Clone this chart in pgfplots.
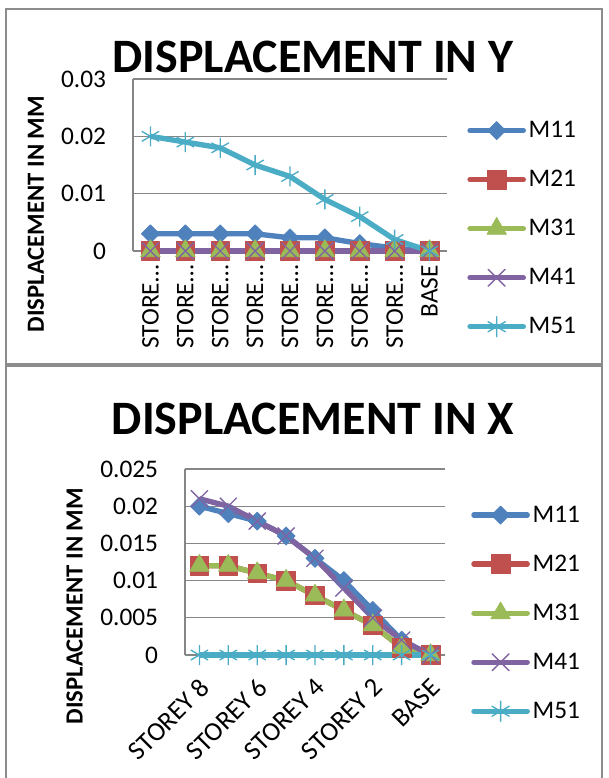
\documentclass[border=0pt]{standalone}
\usepackage{fontspec}
\setmainfont{Carlito}
\usepackage{pgfplots}
\usepackage{pgfplotstable}
\pgfplotsset{compat=1.18}
\usetikzlibrary{plotmarks}
\definecolor{c1}{HTML}{4F81BD}
\definecolor{c2}{HTML}{C0504D}
\definecolor{c3}{HTML}{9BBB59}
\definecolor{c4}{HTML}{8064A2}
\definecolor{c5}{HTML}{4BACC6}
\definecolor{gridc}{HTML}{868686}
\definecolor{framec}{HTML}{8C8C8C}

\pgfplotstableread{
x M11 M21 M31 M41 M51
0 0.0030 0 0 0 0.020
1 0.0030 0 0 0 0.019
2 0.0030 0 0 0 0.018
3 0.0030 0 0 0 0.015
4 0.0023 0 0 0 0.013
5 0.0023 0 0 0 0.009
6 0.0013 0 0 0 0.006
7 0.0005 0 0 0 0.002
8 0      0 0 0 0
}\dispy

\pgfplotstableread{
x M11 M21 M31 M41 M51
0 0.020 0.012 0.012 0.021 0
1 0.019 0.012 0.012 0.020 0
2 0.018 0.011 0.011 0.018 0
3 0.016 0.010 0.010 0.016 0
4 0.013 0.008 0.008 0.013 0
5 0.010 0.006 0.006 0.009 0
6 0.006 0.004 0.004 0.005 0
7 0.002 0.001 0.001 0.002 0
8 0     0     0     0     0
}\dispx

\pgfplotsset{
  exc/.style={
    scale only axis,
    axis x line*=bottom, axis y line*=left,
    axis line style={draw=gridc, line width=1pt},
    ymajorgrids, grid style={draw=gridc, line width=1pt},
    major tick length=0pt,
    scaled y ticks=false,
    xmin=-0.5, xmax=8.5,
    clip=false,
    tick label style={font=\fontsize{19}{21}\selectfont, inner sep=0pt},
    yticklabel style={anchor=east, xshift=-20pt},
    title style={font=\bfseries\fontsize{36}{40}\selectfont, anchor=center, inner sep=0pt},
    ylabel style={font=\bfseries\fontsize{18.5}{20}\selectfont, anchor=center, rotate=0, inner sep=0pt},
    legend style={draw=none, fill=none, font=\fontsize{19}{21}\selectfont,
      row sep=19pt, inner sep=0pt, anchor=west, cells={anchor=west}},
    legend image code/.code={\draw[mark repeat=2,mark phase=2, line cap=round]
      plot coordinates {(0pt,0pt) (20pt,0pt) (40pt,0pt)};},
    every axis plot/.append style={line width=4pt, line join=round},
  },
  s1/.style={c1, mark=square*, mark size=4.8pt, mark options={rotate=45, fill=c1, line width=0.5pt}},
  s2/.style={c2, mark=square*, mark size=7pt, mark options={fill=c2, line width=0.5pt}},
  s3/.style={c3, mark=triangle*, mark size=8.5pt, mark options={fill=c3, line width=0.5pt}},
  s4/.style={c4, mark=x, mark size=9pt, mark options={line width=1pt}},
  s5/.style={c5, mark=asterisk, mark size=7.5pt, mark options={line width=1pt}},
}

\begin{document}
\begin{tikzpicture}
\useasboundingbox (0pt,0pt) rectangle (456.75pt,-583.5pt);
\fill[white] (0pt,0pt) rectangle (456.75pt,-583.5pt);
\draw[framec, line width=1.5pt] (4.5pt,-6.75pt) rectangle (451.5pt,-273pt);
\draw[framec, line width=1.5pt] (4.5pt,-274.5pt) rectangle (451.5pt,-600pt);

\begin{axis}[exc,
  at={(99.75pt,-188.25pt)}, anchor=south west,
  width=235.5pt, height=129pt,
  ymin=0, ymax=0.03,
  ytick={0,0.01,0.02,0.03},
  yticklabels={0,0.01,0.02,0.03},
  xtick={0,...,8},
  xticklabels={STORE…,STORE…,STORE…,STORE…,STORE…,STORE…,STORE…,STORE…,BASE},
  xticklabel style={yshift=-10.5pt, rotate=90, anchor=east},
  title={DISPLACEMENT IN Y},
  title style={at={(axis description cs:0.573,1.081)}},
  ylabel={DISPLACEMENT IN MM},
  ylabel style={at={(axis description cs:-0.309,0.215)}},
  legend style={at={(axis description cs:1.064,0.13)}},
]
\addplot[s1] table[x=x, y=M11] {\dispy};
\addplot[s2] table[x=x, y=M21] {\dispy};
\addplot[s3] table[x=x, y=M31] {\dispy};
\addplot[s4] table[x=x, y=M41] {\dispy};
\addplot[s5] table[x=x, y=M51] {\dispy};
\legend{M11,M21,M31,M41,M51}
\end{axis}

\begin{axis}[exc,
  at={(138.75pt,-491.25pt)}, anchor=south west,
  width=195pt, height=139.5pt,
  ymin=0, ymax=0.025,
  ytick={0,0.005,0.01,0.015,0.02,0.025},
  yticklabels={0,0.005,0.01,0.015,0.02,0.025},
  xtick={0,2,4,6,8},
  xticklabels={STOREY 8,STOREY 6,STOREY 4,STOREY 2,BASE},
  xticklabel style={xshift=4pt, yshift=-21pt, rotate=45, anchor=east, font=\fontsize{20}{22}\selectfont},
  title={DISPLACEMENT IN X},
  title style={at={(axis description cs:0.492,1.226)}},
  ylabel={DISPLACEMENT IN MM},
  ylabel style={at={(axis description cs:-0.425,0.263)}},
  legend style={at={(axis description cs:1.1,0.225)}},
]
\addplot[s1] table[x=x, y=M11] {\dispx};
\addplot[s2] table[x=x, y=M21] {\dispx};
\addplot[s3] table[x=x, y=M31] {\dispx};
\addplot[s4] table[x=x, y=M41] {\dispx};
\addplot[s5] table[x=x, y=M51] {\dispx};
\legend{M11,M21,M31,M41,M51}
\end{axis}
\end{tikzpicture}
\end{document}
